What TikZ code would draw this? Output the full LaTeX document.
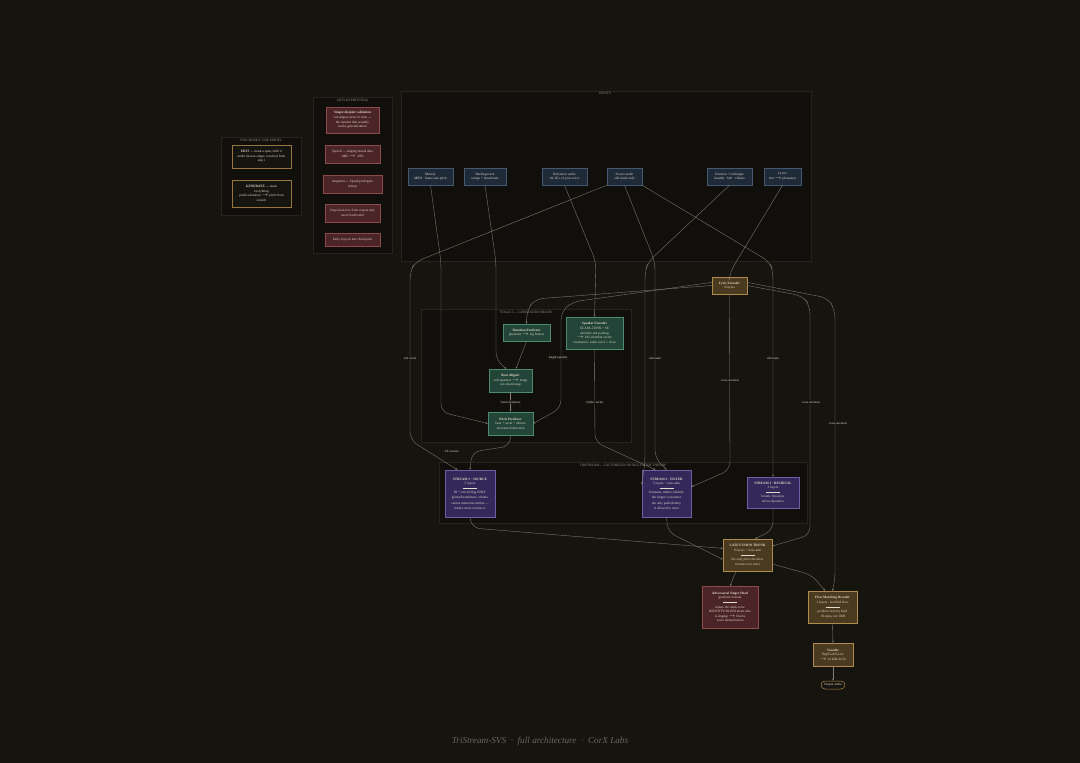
\documentclass[tikz,border=0pt]{standalone}
\usepackage{fontspec}
\setmainfont{Liberation Serif}
\usetikzlibrary{arrows.meta}
\definecolor{bg}{HTML}{16140F}
\definecolor{panelfill}{HTML}{110F0C}
\definecolor{panelline}{HTML}{26231E}
\definecolor{inpfill}{HTML}{1E2A38}
\definecolor{inpline}{HTML}{44596F}
\definecolor{goldfill}{HTML}{4A3A1F}
\definecolor{goldline}{HTML}{B08A4A}
\definecolor{greenfill}{HTML}{234438}
\definecolor{greenline}{HTML}{4C8C6C}
\definecolor{purpfill}{HTML}{33285A}
\definecolor{purpline}{HTML}{6E5EA6}
\definecolor{redfill}{HTML}{4A2426}
\definecolor{redline}{HTML}{8E4A4A}
\definecolor{edgec}{HTML}{857F74}
\definecolor{txt}{HTML}{E2DACA}
\definecolor{ptitle}{HTML}{9A9488}
\definecolor{titlec}{HTML}{6C665C}
\tikzset{
  box/.style={draw, line width=0.5pt, align=center, inner sep=0.5pt, text=txt,
    font=\fontsize{3.4}{4.6}\selectfont},
  inp/.style={box, fill=inpfill, draw=inpline, minimum height=17},
  gold/.style={box, fill=goldfill, draw=goldline},
  green/.style={box, fill=greenfill, draw=greenline},
  purp/.style={box, fill=purpfill, draw=purpline},
  red/.style={box, fill=redfill, draw=redline},
  mode/.style={box, fill=bg, draw=goldline!85!black},
  panel/.style={draw=panelline, fill=panelfill, line width=0.4pt},
  ptext/.style={text=ptitle, font=\fontsize{3.4}{4}\selectfont, inner sep=0.5pt},
  edge/.style={draw=edgec, line width=0.35pt, rounded corners=8pt,
    -{Stealth[length=2.2pt,width=1.8pt]}},
  lab/.style={text=txt, font=\fontsize{3.1}{4}\selectfont, inner sep=0.6pt, fill=bg}
}
\newcommand{\hr}{\rule[0.8pt]{14pt}{0.3pt}}
\begin{document}
\begin{tikzpicture}[x=1pt,y=-1pt]
\fill[bg] (0,0) rectangle (1080,763);
\useasboundingbox (0,0) rectangle (1080,763);

% panels
\draw[panel] (221,137) rectangle (301,215);
\node[ptext] (tpm) at (261,140.5) {TWO MODES, ONE MODEL};
\draw[panel] (313,97) rectangle (392,253);
\node[ptext] (tpa) at (352.5,100.5) {ANTI-OVERFITTING};
\draw[panel] (401,91) rectangle (811,261);
\node[ptext] (tpi) at (605,93.5) {INPUTS};
\draw[panel] (421,309) rectangle (631,442);
\node[ptext] (tps) at (526,312.5) {STAGE 2 — GENERATION HEADS};
\draw[panel] (439,462) rectangle (807,523);
\node[ptext] (tpt) at (623,465) {TRISTREAM — FACTORIZED SOURCE-FILTER THEORY};

% modes
\node[mode, minimum width=59, minimum height=23] (edit) at (261.5,156.5)
  {\textbf{EDIT} — mask a span, infill it\\under chosen singer, resolved from\\step t};
\node[mode, minimum width=59, minimum height=27] (gen) at (261.5,193.5)
  {\textbf{GENERATE} — mask\\everything\\predict duration $\rightarrow$ pitch from\\scratch};

% anti-overfitting
\node[red, minimum width=53, minimum height=26] (a1) at (352.5,120)
  {\textbf{Singer-disjoint validation}\\val singers never in train —\\the number that actually\\tracks generalization};
\node[red, minimum width=55, minimum height=18] (a2) at (352.5,154)
  {Speech — singing mixed data\\100k $\rightarrow$ ~20\%};
\node[red, minimum width=59, minimum height=18] (a3) at (352.5,184)
  {Augment — Speed/pitch/gain\\mixup};
\node[red, minimum width=55, minimum height=18] (a4) at (352.5,213)
  {Stop/noise-free from corpus only\\never hardcoded};
\node[red, minimum width=55, minimum height=13] (a5) at (352.5,239.5)
  {Early stop on test checkpoint};

% inputs
\node[inp, minimum width=45] (mel) at (430.5,176.5) {Melody\\MIDI · frame-rate pitch};
\node[inp, minimum width=42] (back) at (485,176.5) {Backing track\\tempo + downbeats};
\node[inp, minimum width=45] (ref) at (564.5,176.5) {Reference audio\\10–30 s of your voice};
\node[inp, minimum width=35] (src) at (624.5,176.5) {Source audio\\edit mode only};
\node[inp, minimum width=45] (emo) at (729.5,176.5) {Emotion + technique\\breathy · belt · vibrato};
\node[inp, minimum width=37] (lyr) at (782.5,176.5) {Lyrics\\text $\rightarrow$ phonemes};

% lyric encoder
\node[gold, minimum width=35, minimum height=17] (lenc) at (729.5,285.5) {\textbf{Lyric Encoder}\\4 layers};

% stage 2
\node[green, minimum width=47, minimum height=17] (dur) at (526.5,332.5) {\textbf{Duration Predictor}\\phoneme $\rightarrow$ log frames};
\node[green, minimum width=57, minimum height=32] (spk) at (594.5,333)
  {\textbf{Speaker Encoder}\\ECAPA-TDNN + SE\\attentive stat pooling\\$\rightarrow$ 192-d timbre vector\\contrastive: same voice = close};
\node[green, minimum width=43, minimum height=23] (beat) at (510.5,380.5) {\textbf{Beat Aligner}\\soft quantize $\rightarrow$ beatg\\not a hard snap};
\node[green, minimum width=45, minimum height=23] (pitch) at (510.5,423.5) {\textbf{Pitch Predictor}\\base + vocal + vibrato\\via learned direction};

% streams
\node[purp, minimum width=50, minimum height=47] (s1) at (470,493.5)
  {\textbf{STREAM 1 · SOURCE}\\5 layers\\\hr\\F0 + voiced flag ONLY\\glottal/breathiness, vibrato\\[1.5pt]cannot memorise timbre —\\timbre never reaches it};
\node[purp, minimum width=49, minimum height=47] (s2) at (666.5,493.5)
  {\textbf{STREAM 2 · FILTER}\\5 layers · cross-attn\\\hr\\formants, timbre, identity\\the singer's resonator\\[1.5pt]the only path identity\\is allowed to enter};
\node[purp, minimum width=52, minimum height=31] (s3) at (773,492.5)
  {\textbf{STREAM 3 · RESIDUAL}\\3 layers\\\hr\\breath, fricatives\\micro-dynamics};

% fusion and output
\node[gold, minimum width=49, minimum height=32] (late) at (747.5,555)
  {\textbf{LATE FUSION TRUNK}\\8 layers · cross-attn\\\hr\\the only place the three\\streams ever meet};
\node[red, minimum width=56, minimum height=42] (adv) at (730,607)
  {\textbf{Adversarial Singer Head}\\gradient reversal\\\hr\\makes the trunk to be\\IDENTITY-BLIND about who\\is singing $\rightarrow$ blocks\\voice memorisation};
\node[gold, minimum width=49, minimum height=32] (flow) at (832.5,607)
  {\textbf{Flow Matching Decoder}\\2 layers · rectified flow\\\hr\\predicts velocity field\\~10 steps, not 1000};
\node[gold, minimum width=40, minimum height=23] (voc) at (833,654.5)
  {\textbf{Vocoder}\\BigVGAN-Lite\\$\rightarrow$ 24 kHz/44.1k};
\node[box, draw=goldline, fill=bg, rounded corners=4pt, minimum width=24, minimum height=8] (out) at (833,685) {Output audio};

% edges
\draw[edge] (mel.south) -- (441,262) -- (441,412) -- (pitch.west);
\draw[edge] (back.south) -- (496,262) -- (496,360) -- (beat.110);
\draw[edge] (dur.south) -- (beat.65);
\draw[edge] (beat.south) -- node[lab] (l1) {frame durations} (pitch.north);
\draw[edge] (lenc.west) -- (535,299) -- (527,310) -- (dur.north);
\draw[edge] (lenc.170) -- (572,302) -- (561,312) -- (561,408) -- (pitch.east);
\node[lab] (l2) at (558,358) {length regulate};
\draw[edge] (ref.south) -- (596,262) -- (spk.north);
\draw[edge] (spk.south) -- (595,442) -- (s2.115);
\node[lab] (l3) at (595,402) {timbre vector};
\draw[edge] (src.south west) -- (415,262) -- (410,272) -- (410,440) -- (s1.118);
\node[lab] (l4) at (410,358) {edit mode};
\draw[edge] (pitch.south) -- (510,446) -- (472,452) -- (s1.north);
\node[lab] (l5) at (452,451) {F0 contour};
\draw[edge] (emo.south) -- (648,262) -- (645,272) -- (645,462) -- (s2.160);
\draw[edge] (src.south) -- (655,262) -- (655,458) -- (s2.north);
\node[lab] (l6) at (655,358) {edit mask};
\draw[edge] (src.south east) -- (770,262) -- (773,272) -- (s3.north);
\node[lab] (l7) at (773,358) {edit mask};
\draw[edge] (lyr.south) -- (730,272) -- (lenc.north);
\draw[edge] (lenc.south) -- (730,470) -- (s2.15);
\node[lab] (l8) at (730,380) {cross-attention};
\draw[edge] (lenc.east) -- (803,296) -- (810,306) -- (810,535) -- (late.20);
\node[lab] (l9) at (811,402) {cross-attention};
\draw[edge] (lenc.10) -- (828,298) -- (835,310) -- (835,580) -- (flow.north);
\node[lab] (l10) at (838,423) {cross-attention};
\draw[edge] (s1.south) -- (472,528) -- (late.165);
\draw[edge] (s2.south) -- (668,532) -- (late.190);
\draw[edge] (s3.south) -- (773,530) -- (late.65);
\draw[edge] (late.235) -- (adv.north);
\draw[edge] (late.340) -- (812,575) -- (flow.115);
\draw[edge] (flow.south) -- (voc.north);
\draw[edge] (voc.south) -- (out.north);

% title
\node[text=titlec, font=\itshape\fontsize{9.2}{11}\selectfont] (title) at (540,741)
  {TriStream-SVS \ · \ full architecture \ · \ CorX Labs};
\end{tikzpicture}
\end{document}
